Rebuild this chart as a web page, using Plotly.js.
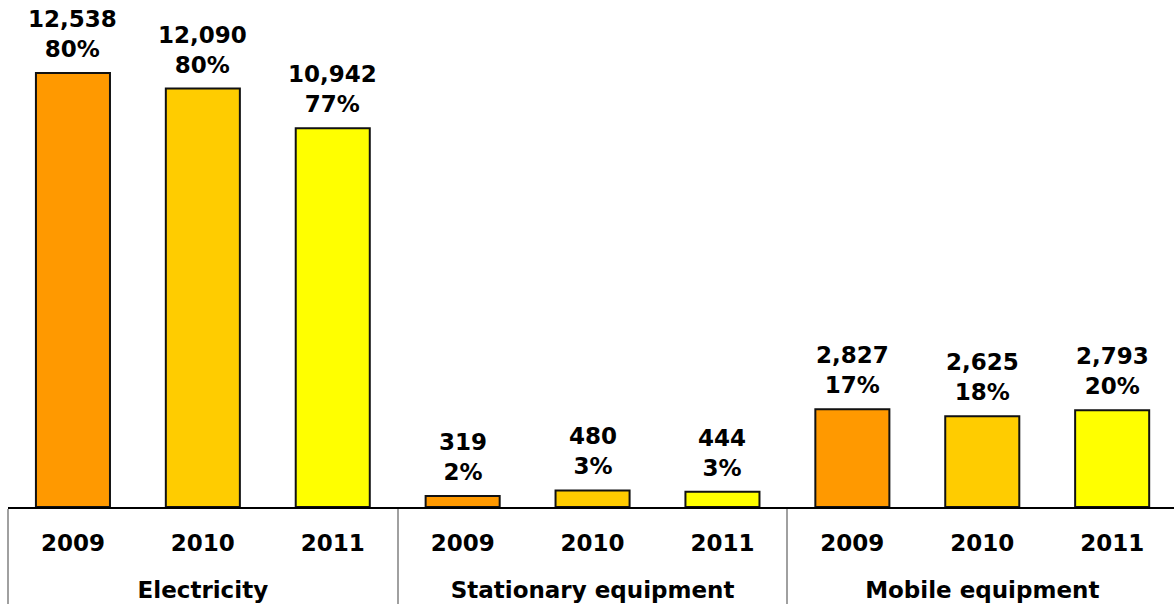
<!DOCTYPE html>
<html>
<head>
<meta charset="utf-8">
<script src="https://cdn.plot.ly/plotly-3.0.1.min.js"></script>
<style>html,body{margin:0;padding:0;background:#fff;}#chart{width:1174px;height:611px;}</style>
</head>
<body>
<div id="chart"></div>
<script>
const groups = ["Electricity","Electricity","Electricity","Stationary equipment","Stationary equipment","Stationary equipment","Mobile equipment","Mobile equipment","Mobile equipment"];
const years = ["2009","2010","2011","2009","2010","2011","2009","2010","2011"];
const values = [12538, 12090, 10942, 319, 480, 444, 2827, 2625, 2793];
const shares = ["80%","80%","77%","2%","3%","3%","17%","18%","20%"];
const yearColors = {"2009":"#FF9900","2010":"#FFCC00","2011":"#FFFF00"};

const fmt = v => v.toLocaleString("en-US");

const trace = {
  type: "bar",
  x: [groups, years.map(y => y + "<br><span style='font-size:36px'>\u00a0</span>")],
  y: values,
  width: 0.57,
  marker: {color: years.map(y => yearColors[y]), line: {color: "#111111", width: 2}},
  hoverinfo: "skip"
};

const annotations = values.map((v, i) => ({
  x: i, y: v, xref: "x", yref: "y",
  text: fmt(v) + "<br>" + shares[i],
  showarrow: false, yanchor: "bottom", yshift: 9,
  font: {family: "DejaVu Sans", size: 23, color: "#000", weight: "bold"}
}));

const layout = {
  width: 1174, height: 611,
  margin: {l: 8, r: 0, t: 0, b: 104},
  paper_bgcolor: "#fff", plot_bgcolor: "#fff",
  showlegend: false,
  xaxis: {
    type: "multicategory",
    range: [-0.5, 8.476],
    showline: true, linecolor: "#000", linewidth: 2,
    showgrid: false, ticks: "",
    ticklabelstandoff: 14,
    showdividers: true, dividercolor: "#a0a0a0", dividerwidth: 2,
    tickfont: {family: "DejaVu Sans", size: 23, color: "#000", weight: "bold"}
  },
  yaxis: {visible: false, range: [0, 14648], showgrid: false, zeroline: false},
  annotations: annotations
};

Plotly.newPlot("chart", [trace], layout, {displayModeBar: false, staticPlot: true});
</script>
</body>
</html>
